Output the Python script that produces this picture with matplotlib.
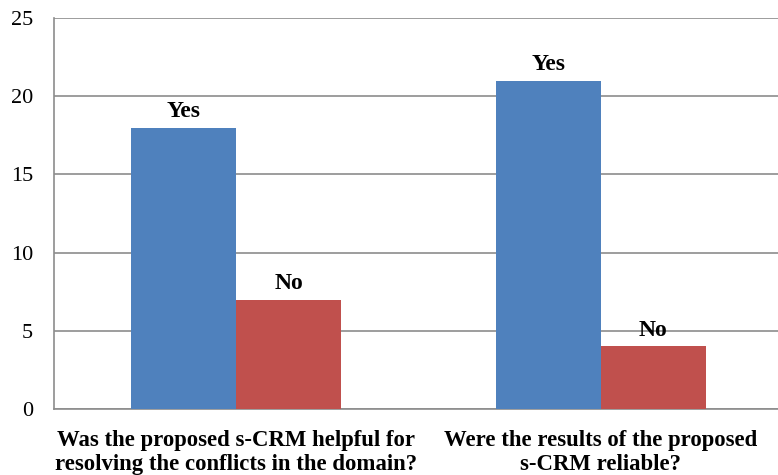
import numpy as np
import matplotlib.pyplot as plt

questions = ["Was the proposed s-CRM helpful for\nresolving the conflicts in the domain?",
             "Were the results of the proposed\ns-CRM reliable?"]
yes_counts = [18, 21]
no_counts = [7, 4]
series_names = ["Yes", "No"]

plt.rcParams['font.family'] = ['Liberation Serif', 'DejaVu Serif']

fig = plt.figure(figsize=(7.78, 4.75), dpi=100)
ax = fig.add_axes([0.0695, 0.139, 0.937, 0.823])

x = np.arange(len(questions))
w = 0.288
bars_yes = ax.bar(x - w / 2, yes_counts, w, color='#4F81BD', zorder=3)
bars_no = ax.bar(x + w / 2, no_counts, w, color='#C0504D', zorder=3)

# series name written over each bar
for bars, name in zip([bars_yes, bars_no], series_names):
    for b in bars:
        ax.annotate(name, (b.get_x() + b.get_width() / 2, b.get_height()),
                    xytext=(0, 4), textcoords='offset points',
                    ha='center', va='bottom', fontsize=17, fontweight='bold')

ax.set_xlim(-0.5, 1.5)
ax.set_ylim(0, 25)
ax.set_yticks(range(0, 26, 5))
ax.set_xticks(x)
ax.set_xticklabels(questions, fontsize=16.4, fontweight='bold', linespacing=1.2)
ax.tick_params(axis='y', labelsize=16, length=0, pad=15)
ax.tick_params(axis='x', length=0, pad=15)
ax.yaxis.grid(True, color='#8c8c8c', linewidth=1.2, zorder=0)
for s in ['top', 'right']:
    ax.spines[s].set_visible(False)
for s in ['left', 'bottom']:
    ax.spines[s].set_color('#8c8c8c')
    ax.spines[s].set_linewidth(1.2)

fig.savefig('out.png', dpi=100)
